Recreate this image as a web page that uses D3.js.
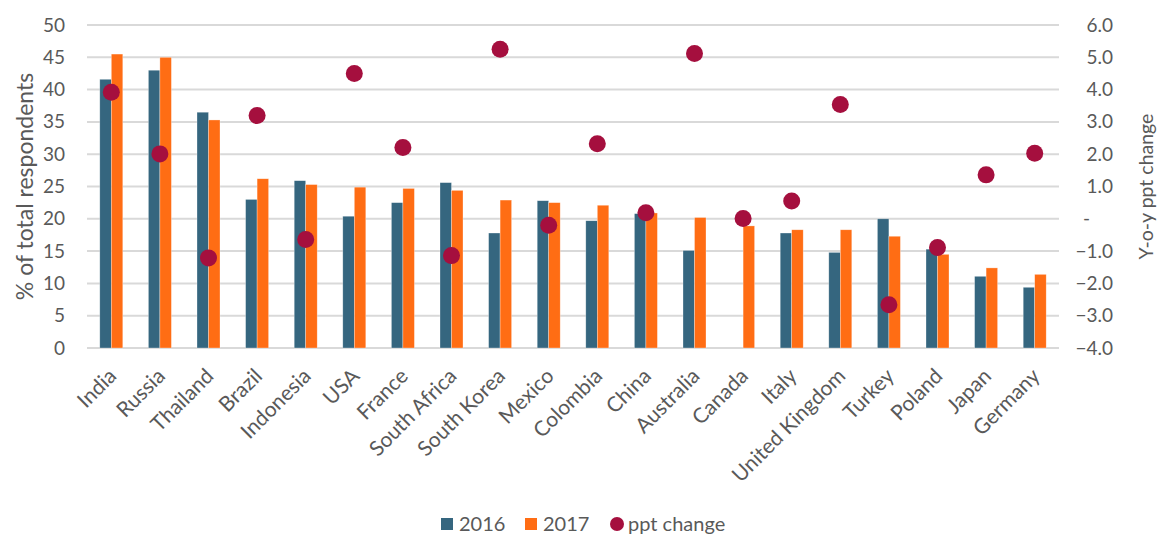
<!DOCTYPE html>
<html>
<head>
<meta charset="utf-8">
<script src="https://cdn.jsdelivr.net/npm/d3@7"></script>
<style>
  body { margin: 0; background: #fff; }
  text { font-family: Lato, "Open Sans", sans-serif; fill: #595959; }
</style>
</head>
<body>
<svg id="chart" width="1158" height="536"></svg>
<script>
// data
const countries = ["India", "Russia", "Thailand", "Brazil", "Indonesia", "USA", "France", "South Africa",
  "South Korea", "Mexico", "Colombia", "China", "Australia", "Canada", "Italy", "United Kingdom",
  "Turkey", "Poland", "Japan", "Germany"];
const values2016 = [41.6, 43.0, 36.5, 23.0, 25.9, 20.4, 22.5, 25.6, 17.8, 22.8, 19.7, 20.8, 15.1, 0,
  17.8, 14.8, 20.0, 15.3, 11.1, 9.4];
const values2017 = [45.5, 45.0, 35.3, 26.2, 25.3, 24.9, 24.7, 24.4, 22.9, 22.5, 22.1, 20.9, 20.2, 18.9,
  18.3, 18.3, 17.3, 14.5, 12.4, 11.4];
const pptChange = [3.92, 2.01, -1.21, 3.2, -0.64, 4.5, 2.21, -1.14, 5.25, -0.2, 2.32, 0.19, 5.12, 0.01,
  0.55, 3.54, -2.66, -0.89, 1.36, 2.03];
const leftTicks = [0, 5, 10, 15, 20, 25, 30, 35, 40, 45, 50];
const rightTicks = [-4, -3, -2, -1, 0, 1, 2, 3, 4, 5, 6];
const seriesNames = ["2016", "2017"];

const colors = { "2016": "#35667f", "2017": "#ff6d14", dot: "#a50f3e" };

let svg = d3.select("#chart");

const plotLeft = 87, plotRight = 1059, plotTop = 25, plotBottom = 348;

let x = d3.scaleBand().domain(countries).range([plotLeft, plotRight]);
let xInner = d3.scaleBand().domain(seriesNames).range([0, 23]);
let y = d3.scaleLinear().domain([0, 50]).range([plotBottom, plotTop]);
let y2 = d3.scaleLinear().domain([-4, 6]).range([plotBottom, plotTop]);

// gridlines
svg.append("g")
    .selectAll("line")
    .data(leftTicks)
    .enter().append("line")
    .attr("x1", plotLeft)
    .attr("x2", plotRight)
    .attr("y1", d => y(d))
    .attr("y2", d => y(d))
    .attr("stroke", "#d9d9d9")
    .attr("stroke-width", 2)

// left axis
let leftAxis = svg.append("g")
    .attr("transform", `translate(${plotLeft - 10},0)`)
    .call(d3.axisLeft(y).tickValues(leftTicks).tickSize(0).tickPadding(12))
leftAxis.select(".domain").remove()
leftAxis.selectAll("text").style("font-size", "19px").style("fill", "#595959")

// right axis, zero shown as a dash
let rightAxis = svg.append("g")
    .attr("transform", `translate(${plotRight},0)`)
    .call(d3.axisRight(y2).tickValues(rightTicks).tickSize(0).tickPadding(54)
        .tickFormat(d => d === 0 ? "-" : d3.format(".1f")(d)))
rightAxis.select(".domain").remove()
rightAxis.selectAll("text")
    .attr("text-anchor", "end")
    .attr("dx", d => d === 0 ? -23 : 0)
    .style("font-size", "19px").style("fill", "#595959")

// axis titles
svg.append("text")
    .attr("transform", `translate(25,${(plotTop + plotBottom) / 2}) rotate(-90)`)
    .attr("text-anchor", "middle")
    .attr("dy", "0.35em")
    .style("font-size", "23px")
    .text("% of total respondents")

svg.append("text")
    .attr("transform", `translate(1146,${(plotTop + plotBottom) / 2}) rotate(-90)`)
    .attr("text-anchor", "middle")
    .attr("dy", "0.35em")
    .style("font-size", "19.5px")
    .text("Y-o-y ppt change")

// bars
let groups = svg.append("g")
    .selectAll("g")
    .data(countries)
    .enter().append("g")
    .attr("transform", d => `translate(${x(d) + (x.bandwidth() - 23) / 2},0)`)

groups.selectAll("rect")
    .data((d, i) => [
        { key: "2016", value: values2016[i] },
        { key: "2017", value: values2017[i] }
    ].filter(b => b.value > 0))
    .enter().append("rect")
    .attr("x", d => xInner(d.key))
    .attr("width", xInner.bandwidth())
    .attr("y", d => y(d.value))
    .attr("height", d => y(0) - y(d.value))
    .attr("fill", d => colors[d.key])
    .attr("stroke", "#ffffff")
    .attr("stroke-opacity", 0.5)
    .attr("stroke-width", 0.6)

// ppt change dots
svg.append("g")
    .selectAll("circle")
    .data(countries)
    .enter().append("circle")
    .attr("cx", d => x(d) + x.bandwidth() / 2)
    .attr("cy", (d, i) => y2(pptChange[i]))
    .attr("r", 8.5)
    .attr("fill", colors.dot)

// x labels
svg.append("g")
    .selectAll("text")
    .data(countries)
    .enter().append("text")
    .attr("transform", d => `translate(${x(d) + x.bandwidth() / 2 - 4},${plotBottom + 19}) rotate(-45)`)
    .attr("text-anchor", "end")
    .attr("dy", "0.7em")
    .style("font-size", "21px")
    .text(d => d)

// legend
let legend = svg.append("g").attr("transform", "translate(0,524)")
let legendItems = [
    { label: "2016", shape: "rect", color: colors["2016"], x: 441 },
    { label: "2017", shape: "rect", color: colors["2017"], x: 525 },
    { label: "ppt change", shape: "circle", color: colors.dot, x: 610 }
]
legendItems.forEach(item => {
    if (item.shape === "rect") {
        legend.append("rect")
            .attr("x", item.x).attr("y", -6)
            .attr("width", 12).attr("height", 12)
            .attr("fill", item.color)
    } else {
        legend.append("circle")
            .attr("cx", item.x + 7).attr("cy", 0)
            .attr("r", 7)
            .attr("fill", item.color)
    }
    legend.append("text")
        .attr("x", item.x + 18)
        .attr("dy", "0.35em")
        .style("font-size", "20px")
        .text(item.label)
})
</script>
</body>
</html>
